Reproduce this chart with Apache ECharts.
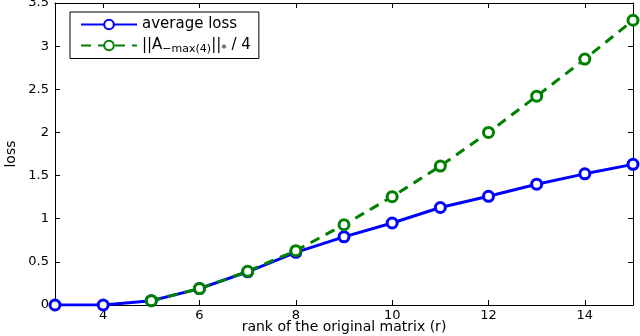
<!DOCTYPE html>
<html><head><meta charset="utf-8">
<script src="https://cdn.jsdelivr.net/npm/echarts@6/dist/echarts.min.js"></script>
<style>html,body{margin:0;padding:0;background:#fff}#c{width:640px;height:336px}</style>
</head><body><div id="c"></div>
<script>
var ranks = [3,4,5,6,7,8,9,10,11,12,13,14,15];
var averageLoss = [0,0,0.05,0.19,0.385,0.61,0.79,0.95,1.13,1.26,1.40,1.52,1.63];
var normLoss = [null,null,0.05,0.19,0.39,0.63,0.93,1.255,1.61,2.00,2.42,2.85,3.30];
var xTicks = [4,6,8,10,12,14];
var yTicks = [0,0.5,1,1.5,2,2.5,3,3.5];
var seriesNames = ['average loss','||A-max(4)||* / 4'];

var F = 'DejaVu Sans, Liberation Sans, Arial, sans-serif';
var chart = echarts.init(document.getElementById('c'));
function pairs(ys){return ranks.map(function(x,i){return [x,ys[i]];});}
var axisCommon = {
  axisLine:{show:true,onZero:false,lineStyle:{color:'#000',width:1}},
  splitLine:{show:false}
};
chart.setOption({
  animation:false,
  grid:{left:55,right:7,top:3,bottom:31,outerBoundsMode:'none',containLabel:false},
  xAxis:[
    Object.assign({type:'value',min:3,max:15,position:'bottom',
      name:'rank of the original matrix (r)',nameLocation:'middle',nameGap:15,nameMoveOverlap:false,
      nameTextStyle:{fontFamily:F,fontSize:14,color:'#000'},
      axisTick:{show:true,inside:true,length:5,customValues:xTicks,lineStyle:{color:'#000'}},
      axisLabel:{show:true,customValues:xTicks,fontFamily:F,fontSize:13,color:'#000',margin:4}},axisCommon),
    Object.assign({type:'value',min:3,max:15,position:'top',
      axisTick:{show:true,inside:true,length:5,customValues:xTicks,lineStyle:{color:'#000'}},
      axisLabel:{show:false}},axisCommon)
  ],
  yAxis:[
    Object.assign({type:'value',min:0,max:3.5,interval:0.5,position:'left',
      name:'loss',nameLocation:'middle',nameGap:37,nameRotate:90,nameMoveOverlap:false,
      nameTextStyle:{fontFamily:F,fontSize:14,color:'#000'},
      axisTick:{show:true,inside:true,length:5,lineStyle:{color:'#000'}},
      axisLabel:{fontFamily:F,fontSize:13,color:'#000',margin:6}},axisCommon),
    Object.assign({type:'value',min:0,max:3.5,interval:0.5,position:'right',
      axisTick:{show:true,inside:true,length:5,lineStyle:{color:'#000'}},
      axisLabel:{show:false}},axisCommon)
  ],
  legend:{
    left:70,top:12,orient:'vertical',
    backgroundColor:'#fff',borderColor:'#000',borderWidth:1,borderRadius:0,
    padding:[5,8,4,10],itemGap:6,itemWidth:56,itemHeight:12,
    data:seriesNames,
    textStyle:{fontFamily:F,fontSize:15,color:'#000',
      rich:{n:{fontFamily:F,fontSize:15,color:'#000'},
            s:{fontFamily:F,fontSize:11,color:'#000',verticalAlign:'bottom',padding:[7,0,0,0]}}},
    formatter:function(name){
      if(name===seriesNames[1]) return '{n|||A}{s|\u2212max(4)}{n|||}{s|*}{n| / 4}';
      return '{n|'+name+'}';
    }
  },
  series:[
    {name:seriesNames[0],type:'line',data:pairs(averageLoss),
      symbol:'circle',symbolSize:10,showAllSymbol:true,
      lineStyle:{color:'#0000ff',width:3},
      itemStyle:{color:'#ffffff',borderColor:'#0000ff',borderWidth:3}},
    {name:seriesNames[1],type:'line',data:pairs(normLoss),connectNulls:false,
      symbol:'circle',symbolSize:10,showAllSymbol:true,
      lineStyle:{color:'#008000',width:3,type:[10,7]},
      itemStyle:{color:'#ffffff',borderColor:'#008000',borderWidth:3}}
  ]
});
</script></body></html>
